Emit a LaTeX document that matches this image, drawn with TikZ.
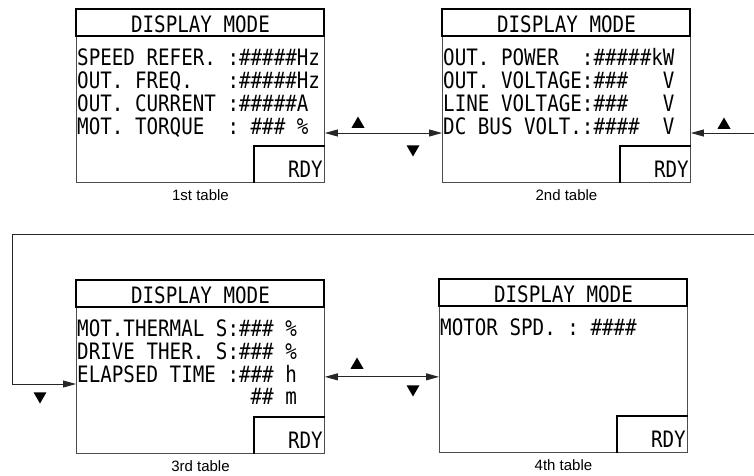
\documentclass[tikz,border=0pt]{standalone}
\usepackage{fontspec}
\usetikzlibrary{calc, arrows.meta, positioning, shapes.geometric}
\newfontfamily\lcdfont[FakeStretch=0.85]{DejaVu Sans Mono}
\newfontfamily\capfont{Liberation Sans}
\tikzset{
  screen/.style={draw=black!70, line width=0.9pt, minimum width=248pt, minimum height=173pt, inner sep=0pt, anchor=north west},
  header/.style={draw=black, line width=2pt},
  rdyedge/.style={draw=black, line width=2pt},
  lcd/.style={font=\lcdfont\fontsize{22.6}{24}\selectfont, inner sep=0pt, anchor=base west},
  caption/.style={font=\capfont\fontsize{15}{18}\selectfont, inner sep=0pt, anchor=base},
  link/.style={draw=black!85, line width=0.9pt},
  tip/.style={-{Triangle[length=13pt,width=7pt]}},
  tips/.style={{Triangle[length=13pt,width=7pt]}-{Triangle[length=13pt,width=7pt]}},
  keyup/.style={regular polygon, regular polygon sides=3, fill=black, inner sep=0pt, minimum size=15pt},
  keydown/.style={keyup, shape border rotate=180}
}
\begin{document}
\begin{tikzpicture}[x=1pt, y=-1pt]
	\useasboundingbox (0,0) rectangle (754,475);
	% screens
	\node[screen] (s1) at (76,9) {};
	\node[screen] (s2) at (442,9) {};
	\node[screen] (s3) at (76,280) {};
	\node[screen] (s4) at (439,279) {};
	\draw[header] (s1.north west) rectangle ++(248,27);
	\draw[header] (s2.north west) rectangle ++(248,27);
	\draw[header] (s3.north west) rectangle ++(248,27);
	\draw[header] (s4.north west) rectangle ++(248,27);
	\node[lcd, anchor=base] (h1) at ($(s1.north)+(0,23)$) {DISPLAY~MODE};
	\node[lcd, anchor=base] (h2) at ($(s2.north)+(0,23)$) {DISPLAY~MODE};
	\node[lcd, anchor=base] (h3) at ($(s3.north)+(0,23)$) {DISPLAY~MODE};
	\node[lcd, anchor=base] (h4) at ($(s4.north)+(0,23)$) {DISPLAY~MODE};
	\draw[rdyedge] ($(s1.south east)+(-71,0)$) |- ($(s1.south east)+(0,-37)$);
	\draw[rdyedge] ($(s2.south east)+(-71,0)$) |- ($(s2.south east)+(0,-37)$);
	\draw[rdyedge] ($(s3.south east)+(-71,0)$) |- ($(s3.south east)+(0,-37)$);
	\draw[rdyedge] ($(s4.south east)+(-71,0)$) |- ($(s4.south east)+(0,-37)$);
	\node[lcd, anchor=base east] (r1) at ($(s1.south east)+(-2,-5)$) {RDY};
	\node[lcd, anchor=base east] (r2) at ($(s2.south east)+(-2,-5)$) {RDY};
	\node[lcd, anchor=base east] (r3) at ($(s3.south east)+(-2,-5)$) {RDY};
	\node[lcd, anchor=base east] (r4) at ($(s4.south east)+(-2,-5)$) {RDY};
	% 1st table
	\node[lcd] (t11) at ($(s1.north west)+(1,56)$) {SPEED~REFER.~:\#\#\#\#\#Hz};
	\node[lcd] (t12) at ($(s1.north west)+(1,79)$) {OUT.~FREQ.~~~:\#\#\#\#\#Hz};
	\node[lcd] (t13) at ($(s1.north west)+(1,102)$) {OUT.~CURRENT~:\#\#\#\#\#A};
	\node[lcd] (t14) at ($(s1.north west)+(1,125)$) {MOT.~TORQUE~~:~\#\#\#~\%};
	% 2nd table
	\node[lcd] (t21) at ($(s2.north west)+(1,56)$) {OUT.~POWER~~:\#\#\#\#\#kW};
	\node[lcd] (t22) at ($(s2.north west)+(1,79)$) {OUT.~VOLTAGE:\#\#\#~~~V};
	\node[lcd] (t23) at ($(s2.north west)+(1,102)$) {LINE~VOLTAGE:\#\#\#~~~V};
	\node[lcd] (t24) at ($(s2.north west)+(1,125)$) {DC~BUS~VOLT.:\#\#\#\#~~V};
	% 3rd table
	\node[lcd] (t31) at ($(s3.north west)+(1,56)$) {MOT.THERMAL~S:\#\#\#~\%};
	\node[lcd] (t32) at ($(s3.north west)+(1,79)$) {DRIVE~THER.~S:\#\#\#~\%};
	\node[lcd] (t33) at ($(s3.north west)+(1,102)$) {ELAPSED~TIME~:\#\#\#~h};
	\node[lcd] (t34) at ($(s3.north west)+(1,124)$) {~~~~~~~~~~~~~~~\#\#~m};
	% 4th table
	\node[lcd] (t41) at ($(s4.north west)+(1,56)$) {MOTOR~SPD.~:~\#\#\#\#};
	% captions
	\node[caption] (c1) at ($(s1.south)+(0,18)$) {1st table};
	\node[caption] (c2) at ($(s2.south)+(0,18)$) {2nd table};
	\node[caption] (c3) at ($(s3.south)+(0,18)$) {3rd table};
	\node[caption] (c4) at ($(s4.south)+(0,18)$) {4th table};
	% key arrows
	\coordinate (inR) at (754,133);
	\coordinate (loopR) at (754,234);
	\coordinate (loopL) at (12,234);
	\draw[link, tips] (s1.east |- inR) -- (s2.west |- inR);
	\draw[link, tip] (inR) -- (s2.east |- inR);
	\draw[link, tip] (loopR) -- (loopL) |- ($(s3.west |- t33.base)+(0,2)$);
	\draw[link, tips] ($(s3.east |- t33.mid)+(0,-3)$) -- ($(s4.west |- t33.mid)+(0,-3)$);
	\node[keyup] (up12) at (358,124) {};
	\node[keydown] (dn12) at (413,149) {};
	\node[keyup] (upR) at (724,125) {};
	\node[keydown] (dnL) at (40,396) {};
	\node[keyup] (up34) at (357,365) {};
	\node[keydown] (dn34) at (413,389) {};
\end{tikzpicture}
\end{document}
